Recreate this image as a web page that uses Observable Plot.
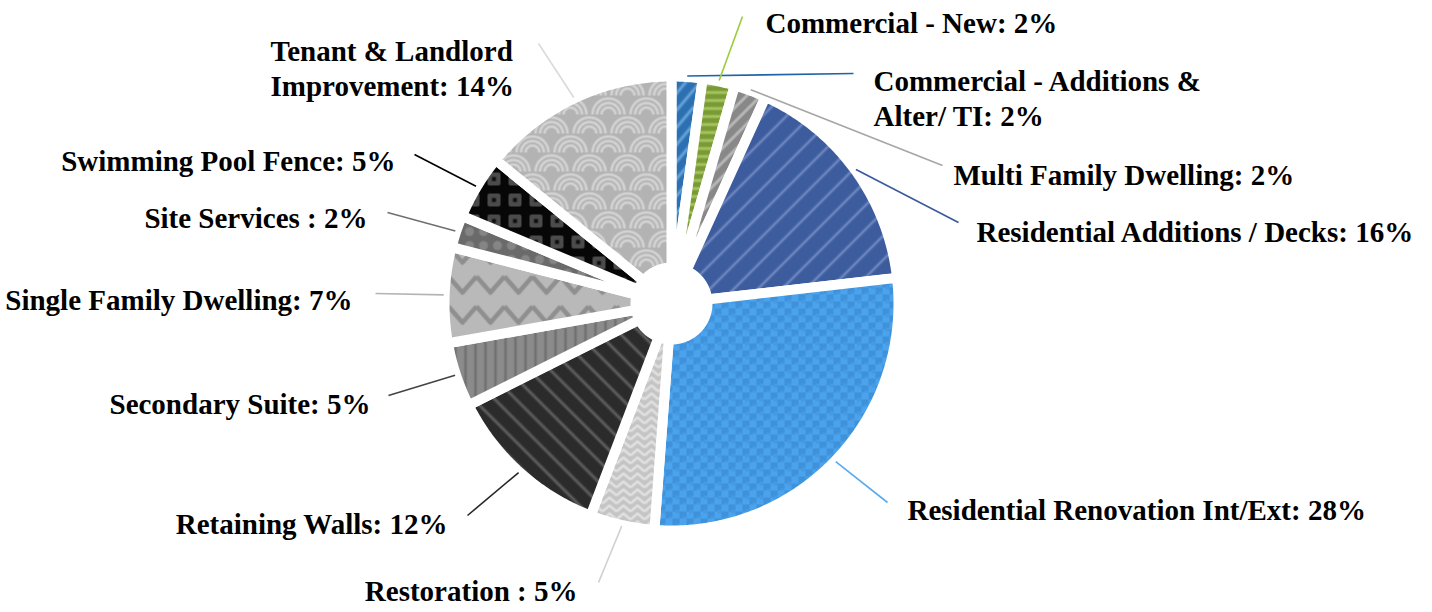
<!DOCTYPE html>
<html>
<head>
<meta charset="utf-8">
<script src="https://cdn.jsdelivr.net/npm/d3@7"></script>
<script src="https://cdn.jsdelivr.net/npm/@observablehq/plot@0.6"></script>
<style>
html, body { margin: 0; padding: 0; background: #ffffff; }
svg { display: block; }
</style>
</head>
<body>
<div id="chart"></div>
<script>
// ---------- data ----------
const categories = [
  "Commercial - Additions & Alter/ TI",
  "Commercial - New",
  "Multi Family Dwelling",
  "Residential Additions / Decks",
  "Residential Renovation Int/Ext",
  "Restoration ",
  "Retaining Walls",
  "Secondary Suite",
  "Single Family Dwelling",
  "Site Services ",
  "Swimming Pool Fence",
  "Tenant & Landlord Improvement"
];
const shares = [2.2, 2.3, 2.3, 16.4, 28.0, 4.6, 11.8, 4.6, 6.8, 2.3, 4.6, 14.1];

// ---------- styles / layout (not data) ----------
const lineColors = ["#1f64a8", "#9ccc3a", "#a6a6a6", "#3a5a9e", "#5aaaee", "#d0d0d0",
                    "#262626", "#444444", "#b4b4b4", "#707070", "#000000", "#dadada"];
// label layout in reference pixels: leader end, text anchor point, alignment, optional break
const labelLayout = [
  {ex: 853, ey: 73,  tx: 873, ty: 97,  anchor: "start", brk: "Alter/"},
  {ex: 742, ey: 16,  tx: 765, ty: 21,  anchor: "start"},
  {ex: 942, ey: 165, tx: 953, ty: 173, anchor: "start"},
  {ex: 958, ey: 222, tx: 976, ty: 230, anchor: "start"},
  {ex: 887, ey: 502, tx: 907, ty: 508, anchor: "start"},
  {ex: 598, ey: 582, tx: 577, ty: 589, anchor: "end"},
  {ex: 467, ey: 515, tx: 447, ty: 522, anchor: "end"},
  {ex: 388, ey: 395, tx: 370, ty: 402, anchor: "end"},
  {ex: 375, ey: 293, tx: 352, ty: 298, anchor: "end"},
  {ex: 387, ey: 212, tx: 367, ty: 216, anchor: "end"},
  {ex: 414, ey: 154, tx: 395, ty: 159, anchor: "end"},
  {ex: 538, ey: 43,  tx: 270, ty: 67,  anchor: "start", brk: "Improvement"}
];

const W = 1432, H = 612;
const CX = 671, CY = 303;     // pie centre in page pixels
const R = 227, R0 = 36;       // outer / inner radius (before white border)
const BORDER = 10;            // white gap between slices
const LEAD_R = 228;           // leader lines start radius
const toX = px => px - CX, toY = py => CY - py;

// ---------- derived geometry ----------
const total = d3.sum(shares);
let acc = 0;
const slices = categories.map((name, i) => {
  const a0 = acc / total * 2 * Math.PI; acc += shares[i];
  const a1 = acc / total * 2 * Math.PI;
  return {name, i, a0, a1, mid: (a0 + a1) / 2, pct: Math.round(shares[i] / total * 100)};
});
function slicePolygon(s) {
  const n = Math.max(4, Math.ceil((s.a1 - s.a0) / (Math.PI / 360)));
  const pts = [];
  for (let k = 0; k <= n; k++) { const a = s.a0 + (s.a1 - s.a0) * k / n; pts.push({x: R * Math.sin(a), y: R * Math.cos(a)}); }
  for (let k = n; k >= 0; k--) { const a = s.a0 + (s.a1 - s.a0) * k / n; pts.push({x: R0 * Math.sin(a), y: R0 * Math.cos(a)}); }
  return pts;
}
const leaders = slices.map(s => ({
  i: s.i,
  x1: LEAD_R * Math.sin(s.mid), y1: LEAD_R * Math.cos(s.mid),
  x2: toX(labelLayout[s.i].ex), y2: toY(labelLayout[s.i].ey)
}));
const labels = slices.map(s => {
  const L = labelLayout[s.i];
  let text = `${s.name}: ${s.pct}%`;
  if (L.brk) text = text.replace(" " + L.brk, "\n" + L.brk);
  return {text, x: toX(L.tx), y: toY(L.ty), anchor: L.anchor};
});

const textStyle = {fontSize: 29, fontWeight: "bold", fontFamily: "Liberation Serif, Times New Roman, serif",
                   lineAnchor: "middle", lineHeight: 1.2, fill: "#000"};

const svg = Plot.plot({
  width: W, height: H, margin: 0,
  style: {background: "#fff", overflow: "visible"},
  x: {domain: [-CX, W - CX], axis: null},
  y: {domain: [CY - H, CY], axis: null},
  color: {type: "identity"},
  marks: [
    ...slices.map(s => Plot.line(slicePolygon(s), {
      x: "x", y: "y", curve: "linear-closed",
      fill: `url(#pat${s.i})`, stroke: "#ffffff", strokeWidth: BORDER,
      strokeLinejoin: "miter", strokeMiterlimit: 4
    })),
    Plot.link(leaders, {x1: "x1", y1: "y1", x2: "x2", y2: "y2",
      stroke: d => lineColors[d.i], strokeWidth: 1.6}),
    Plot.text(labels.filter(d => d.anchor === "start"), {x: "x", y: "y", text: "text", textAnchor: "start", ...textStyle}),
    Plot.text(labels.filter(d => d.anchor === "end"), {x: "x", y: "y", text: "text", textAnchor: "end", ...textStyle})
  ]
});

// ---------- fill patterns ----------
const defs = d3.select(svg).insert("defs", ":first-child");
function makePattern(id, w, h, base, transform) {
  const p = defs.append("pattern").attr("id", id)
    .attr("patternUnits", "userSpaceOnUse").attr("width", w).attr("height", h);
  if (transform) p.attr("patternTransform", transform);
  p.append("rect").attr("width", w).attr("height", h).attr("fill", base);
  return p;
}
function stripes(id, period, base, stripe, angle, frac) {
  const g = defs.append("linearGradient").attr("id", id + "g").attr("x1", 0).attr("x2", 1).attr("y1", 0).attr("y2", 0);
  [[0, base], [0.5 - frac, base], [0.5, stripe], [0.5 + frac, base], [1, base]]
    .forEach(([o, c]) => g.append("stop").attr("offset", o).attr("stop-color", c));
  const p = makePattern(id, period, period, base, `rotate(${angle})`);
  p.append("rect").attr("width", period).attr("height", period).attr("fill", `url(#${id}g)`);
}
// 0 Commercial - Additions
stripes("pat0", 11, "#2c70b2", "#6aa6dc", 40, 0.25);
// 1 Commercial - New
stripes("pat1", 8, "#7a9a36", "#b0cd68", 90, 0.3);
// 2 Multi Family
stripes("pat2", 10, "#888888", "#c2c2c2", 45, 0.25);
// 3 Residential Additions
stripes("pat3", 17, "#3c5c9e", "#7088c0", 45, 0.14);
// 4 Residential Renovation: soft weave
{
  const p = makePattern("pat4", 14, 14, "#4aa3ec");
  p.append("rect").attr("x", 0).attr("y", 0).attr("width", 7).attr("height", 7).attr("fill", "#3f91da");
  p.append("rect").attr("x", 7).attr("y", 7).attr("width", 7).attr("height", 7).attr("fill", "#3f91da");
  p.append("rect").attr("x", 3).attr("y", 5).attr("width", 4).attr("height", 4).attr("fill", "#459ae3");
  p.append("rect").attr("x", 10).attr("y", 12).attr("width", 4).attr("height", 4).attr("fill", "#459ae3");
}
// 5 Restoration: chevrons
{
  const p = makePattern("pat5", 14, 8, "#c4c4c4");
  p.append("path").attr("d", "M0,7 L7,1 L14,7").attr("fill", "none")
    .attr("stroke", "#e0e0e0").attr("stroke-width", 2.6);
}
// 6 Retaining Walls
stripes("pat6", 15, "#2b2b2b", "#606060", -45, 0.18);
// 7 Secondary Suite
stripes("pat7", 10, "#8b8b8b", "#686868", 0, 0.2);
// 8 Single Family: zigzag waves
{
  const p = makePattern("pat8", 28, 30, "#b9b9b9");
  p.append("path").attr("d", "M0,6 L14,22 L28,6").attr("fill", "none")
    .attr("stroke", "#8f8f8f").attr("stroke-width", 4.5).attr("stroke-linejoin", "round");
}
// 9 Site Services: circles
{
  const p = makePattern("pat9", 14, 14, "#6a6a6a");
  p.append("circle").attr("cx", 7).attr("cy", 7).attr("r", 4.5).attr("fill", "#858585");
}
// 10 Swimming Pool Fence: squares on black
{
  const p = makePattern("pat10", 21, 21, "#070707");
  p.append("rect").attr("x", 4).attr("y", 4).attr("width", 13).attr("height", 13).attr("rx", 2).attr("fill", "#4b4b4b");
  p.append("rect").attr("x", 8.5).attr("y", 8.5).attr("width", 4).attr("height", 4).attr("fill", "#0d0d0d");
}
// 11 Tenant & Landlord: seigaiha scallops
{
  const s = 38, r = 19, base = "#b3b3b3";
  const p = makePattern("pat11", s, s, base);
  const centers = [[0, 0], [s, 0], [s / 2, s / 2], [0, s], [s, s]];
  for (const [cx, cy] of centers) {
    p.append("path").attr("d", `M${cx - r},${cy} A${r},${r} 0 0 1 ${cx + r},${cy} Z`).attr("fill", base);
    for (const rr of [16, 11.5, 7]) {
      p.append("path").attr("d", `M${cx - rr},${cy} A${rr},${rr} 0 0 1 ${cx + rr},${cy}`)
        .attr("fill", "none").attr("stroke", "#d3d3d3").attr("stroke-width", 2.6);
    }
  }
}

document.getElementById("chart").appendChild(svg);
</script>
</body>
</html>
